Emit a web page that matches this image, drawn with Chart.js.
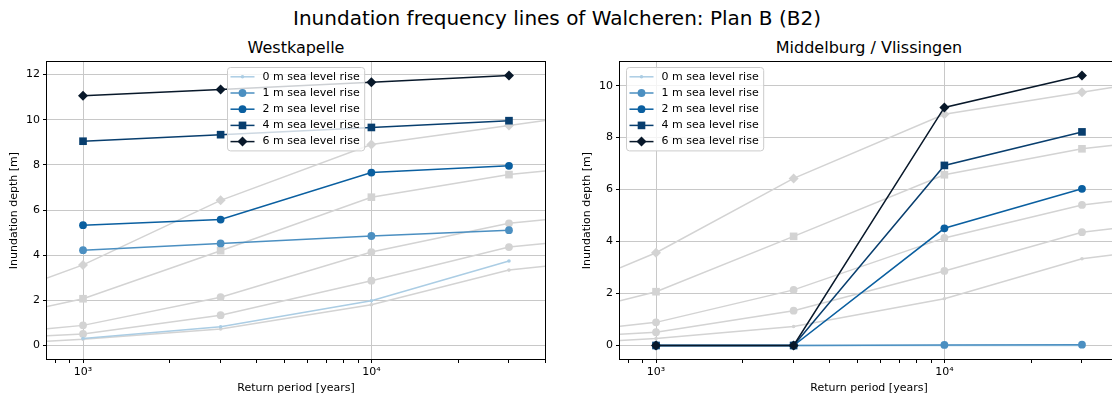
<!DOCTYPE html>
<html>
<head>
<meta charset="utf-8">
<script src="https://cdn.jsdelivr.net/npm/chart.js@4"></script>
<style>
  html, body { margin: 0; padding: 0; width: 1112px; height: 400px; overflow: hidden; background: #fff; }
  body { position: relative; font-family: 'DejaVu Sans', sans-serif; color: #000; }
  .title { position: absolute; white-space: nowrap; transform: translateX(-50%); }
  #suptitle { left: 557px; top: 6px; font-size: 20px; line-height: 24px; }
  .subtitle { top: 38px; font-size: 16px; line-height: 20px; }
  canvas { position: absolute; top: 0; }
</style>
</head>
<body>
<div id="suptitle" class="title">Inundation frequency lines of Walcheren: Plan B (B2)</div>
<div class="title subtitle" style="left:296px">Westkapelle</div>
<div class="title subtitle" style="left:869px">Middelburg / Vlissingen</div>
<canvas id="west" width="556" height="400" style="left:0"></canvas>
<canvas id="mid" width="556" height="400" style="left:573px"></canvas>
<script>
// return periods [years] of the computed points
const RETURN_PERIODS = [1000, 3000, 10000, 30000];
const SLR_LABELS = ['0 m sea level rise', '1 m sea level rise', '2 m sea level rise',
                    '4 m sea level rise', '6 m sea level rise'];

// Westkapelle, plan B (B2), inundation depth [m]
const WEST_SLR0 = [0.31, 0.83, 1.98, 3.74];
const WEST_SLR1 = [4.22, 4.52, 4.85, 5.11];
const WEST_SLR2 = [5.33, 5.58, 7.66, 7.96];
const WEST_SLR4 = [9.05, 9.34, 9.66, 9.96];
const WEST_SLR6 = [11.06, 11.34, 11.66, 11.96];

// Middelburg / Vlissingen, plan B (B2), inundation depth [m]
const MID_SLR0 = [0, 0, 0, 0];
const MID_SLR1 = [0, 0, 0.02, 0.03];
const MID_SLR2 = [0, 0, 4.51, 6.03];
const MID_SLR4 = [0, 0, 6.93, 8.22];
const MID_SLR6 = [0, 0, 9.16, 10.39];

// grey reference lines (same in both panels), incl. where they leave the axes
const REF_PERIODS = [750, 1000, 3000, 10000, 30000, 40000];
const REF_SLR0 = [0.19, 0.27, 0.73, 1.80, 3.34, 3.51];
const REF_SLR1 = [0.43, 0.51, 1.34, 2.87, 4.36, 4.52];
const REF_SLR2 = [0.74, 0.89, 2.14, 4.14, 5.41, 5.57];
const REF_SLR4 = [1.72, 2.07, 4.20, 6.57, 7.57, 7.73];
const REF_SLR6 = [2.99, 3.57, 6.43, 8.90, 9.75, 9.97];

// axes
const X_RANGE = [750, 40000];
const X_TICKS = [800, 900, 1000, 2000, 3000, 4000, 5000, 6000, 7000, 8000, 9000, 10000, 20000, 30000, 40000];
const X_MAJOR = [1000, 10000];
const WEST_Y_RANGE = [-0.6, 12.56];
const WEST_Y_TICKS = [0, 2, 4, 6, 8, 10, 12];
const MID_Y_RANGE = [-0.52, 10.91];
const MID_Y_TICKS = [0, 2, 4, 6, 8, 10];

const FONT = 'DejaVu Sans';
const GRID = '#c8c8c8';
const GREY = '#d3d3d3';
const STYLES = [
    { color: '#abcde4', point: 'circle', radius: 1.8 },
    { color: '#4b8fc1', point: 'circle', radius: 3.9 },
    { color: '#0a5fa0', point: 'circle', radius: 3.9 },
    { color: '#083e6e', point: 'rect', radius: 5.4 },
    { color: '#08182a', point: 'rectRot', radius: 5.0 }
];

// top and right spines too
const frame = {
    id: 'frame',
    afterDraw(chart) {
        const { ctx, chartArea: a } = chart;
        ctx.save();
        ctx.strokeStyle = '#000';
        ctx.lineWidth = 1;
        ctx.strokeRect(a.left - 0.5, a.top - 0.5, a.right - a.left + 1, a.bottom - a.top + 1);
        ctx.restore();
    }
};

// matplotlib-like legend box inside the axes
const boxLegend = {
    id: 'boxLegend',
    afterDatasetsDraw(chart, args, opts) {
        const { ctx, chartArea: a } = chart;
        const items = chart.data.datasets.filter(d => d.inLegend);
        ctx.save();
        ctx.font = '11px "' + FONT + '"';
        const textW = Math.max(...items.map(d => ctx.measureText(d.label).width));
        const rowH = 16.2;
        const x0 = Math.round(a.left + opts.dx) + 0.5;
        const y0 = Math.round(a.top + opts.dy) + 0.5;
        const w = 35 + textW + 5;
        const h = rowH * items.length + 2.4;
        ctx.beginPath();
        if (ctx.roundRect) ctx.roundRect(x0, y0, w, h, 3); else ctx.rect(x0, y0, w, h);
        ctx.fillStyle = 'rgba(255,255,255,0.8)';
        ctx.fill();
        ctx.strokeStyle = '#cccccc';
        ctx.lineWidth = 1;
        ctx.stroke();
        items.forEach((d, i) => {
            const cy = y0 + 1.2 + rowH * (i + 0.5);
            ctx.strokeStyle = d.borderColor;
            ctx.lineWidth = d.borderWidth;
            ctx.beginPath();
            ctx.moveTo(x0 + 3, cy);
            ctx.lineTo(x0 + 27, cy);
            ctx.stroke();
            ctx.fillStyle = d.borderColor;
            Chart.helpers.drawPoint(ctx, { pointStyle: d.pointStyle, radius: d.pointRadius, borderWidth: 0, rotation: 0 }, x0 + 15, cy);
            ctx.fillStyle = '#000';
            ctx.textBaseline = 'middle';
            ctx.fillText(d.label, x0 + 35, cy);
        });
        ctx.restore();
    }
};

function makeChart(id, series, yRange, yTicks, legendDx) {
    const refs = [REF_SLR0, REF_SLR1, REF_SLR2, REF_SLR4, REF_SLR6];
    const datasets = [];
    refs.forEach((vals, i) => {
        datasets.push({
            label: 'ref ' + SLR_LABELS[i],
            data: REF_PERIODS.map((x, j) => ({ x, y: vals[j] })),
            borderColor: GREY,
            backgroundColor: GREY,
            borderWidth: 1.5,
            pointStyle: STYLES[i].point,
            pointRadius: REF_PERIODS.map(x => RETURN_PERIODS.includes(x) ? STYLES[i].radius : 0),
            pointBorderWidth: 0,
            order: 10
        });
    });
    series.forEach((vals, i) => {
        datasets.push({
            label: SLR_LABELS[i],
            inLegend: true,
            data: RETURN_PERIODS.map((x, j) => ({ x, y: vals[j] })),
            borderColor: STYLES[i].color,
            backgroundColor: STYLES[i].color,
            borderWidth: 1.5,
            pointStyle: STYLES[i].point,
            pointRadius: STYLES[i].radius,
            pointBorderWidth: 0,
            order: 5 - i
        });
    });

    const font = { family: FONT, size: 11 };
    return new Chart(document.getElementById(id), {
        type: 'line',
        data: { datasets },
        options: {
            responsive: false,
            animation: false,
            events: [],
            layout: { padding: { top: 62, right: 11, bottom: 0, left: 0 } },
            scales: {
                x: {
                    type: 'logarithmic',
                    min: X_RANGE[0],
                    max: X_RANGE[1],
                    afterBuildTicks: s => { s.ticks = X_TICKS.map(v => ({ value: v, major: X_MAJOR.includes(v) })); },
                    afterFit: s => { s.height = 41; },
                    grid: {
                        color: c => (c.tick && X_MAJOR.includes(c.tick.value)) ? GRID : 'rgba(0,0,0,0)',
                        tickColor: '#000',
                        tickLength: 4,
                        lineWidth: 1
                    },
                    border: { display: false },
                    ticks: {
                        autoSkip: false,
                        maxRotation: 0,
                        padding: 3,
                        color: '#000',
                        font,
                        callback: v => v === 1000 ? '10³' : (v === 10000 ? '10⁴' : '')
                    },
                    title: { display: true, text: 'Return period [years]', color: '#000', font, padding: { top: 0, bottom: 5 } }
                },
                y: {
                    min: yRange[0],
                    max: yRange[1],
                    afterBuildTicks: s => { s.ticks = yTicks.map(v => ({ value: v })); },
                    afterFit: s => { s.width = 47; },
                    grid: { color: GRID, tickColor: '#000', tickLength: 4, lineWidth: 1 },
                    border: { display: false },
                    ticks: { padding: 3, color: '#000', font, callback: v => String(v) },
                    title: { display: true, text: 'Inundation depth [m]', color: '#000', font, padding: { top: 8, bottom: 0 } }
                }
            },
            plugins: {
                legend: { display: false },
                tooltip: { enabled: false },
                boxLegend: { dx: legendDx, dy: 5 }
            }
        },
        plugins: [boxLegend, frame]
    });
}

makeChart('west', [WEST_SLR0, WEST_SLR1, WEST_SLR2, WEST_SLR4, WEST_SLR6], WEST_Y_RANGE, WEST_Y_TICKS, 180);
makeChart('mid', [MID_SLR0, MID_SLR1, MID_SLR2, MID_SLR4, MID_SLR6], MID_Y_RANGE, MID_Y_TICKS, 6);
</script>
</body>
</html>
